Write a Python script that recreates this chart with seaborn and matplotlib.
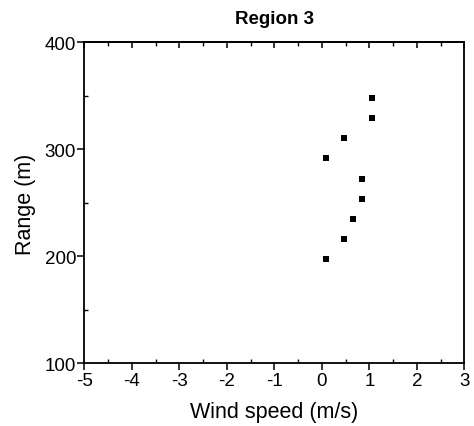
import matplotlib
matplotlib.use("Agg")
import matplotlib.pyplot as plt
import seaborn as sns
import pandas as pd
from matplotlib.ticker import MultipleLocator

wind_speed = [0.09, 0.47, 0.66, 0.85, 0.85, 0.09, 0.47, 1.05, 1.05]
range_m = [197.6, 216.3, 235.2, 253.9, 272.6, 291.5, 310.3, 329.2, 347.9]
x_ticks = [-5, -4, -3, -2, -1, 0, 1, 2, 3]
y_ticks = [100, 200, 300, 400]

df = pd.DataFrame({"Wind speed": wind_speed, "Range": range_m})

sns.set_theme(style="white")
plt.rcParams["font.family"] = ["Liberation Sans", "DejaVu Sans"]
plt.rcParams["text.color"] = "black"
plt.rcParams["axes.labelcolor"] = "black"
plt.rcParams["xtick.color"] = "black"
plt.rcParams["ytick.color"] = "black"

fig = plt.figure(figsize=(4.74, 4.27), dpi=100)
ax = fig.add_axes([0.178, 0.1464, 0.8016, 0.7522])

sns.scatterplot(data=df, x="Wind speed", y="Range", ax=ax, marker="s",
                color="black", s=24, linewidth=0, legend=False)

ax.set_xlim(-5, 3)
ax.set_ylim(100, 400)
ax.set_xticks(x_ticks)
ax.set_yticks(y_ticks)
ax.set_xticklabels([str(t) for t in x_ticks])
ax.set_yticklabels([str(t) for t in y_ticks])
ax.xaxis.set_minor_locator(MultipleLocator(0.5))
ax.yaxis.set_minor_locator(MultipleLocator(50))

for s in ax.spines.values():
    s.set_color("black")
    s.set_linewidth(1.3)

ax.tick_params(axis="both", which="major", direction="out", length=5, width=1.1,
               colors="black", labelcolor="black", labelsize=13.5, pad=1,
               top=False, right=False, bottom=True, left=True)
ax.tick_params(axis="both", which="minor", direction="in", length=3, width=1.0,
               colors="black", top=False, right=False, bottom=True, left=True)

sec = ax.secondary_xaxis("top")
sec.set_xticks(x_ticks)
sec.xaxis.set_minor_locator(MultipleLocator(0.5))
sec.tick_params(which="major", direction="in", length=4, width=1.1, labeltop=False)
sec.tick_params(which="minor", direction="in", length=3, width=1.0)
sec.spines["top"].set_linewidth(1.3)
sec.spines["top"].set_color("black")

ax.set_xlabel("Wind speed (m/s)", fontsize=15.5, labelpad=9, color="black")
ax.set_ylabel("Range (m)", fontsize=15.5, labelpad=6, color="black")
ax.set_title("Region 3", fontsize=13.5, fontweight="bold", pad=14, color="black")

fig.savefig("out.png", dpi=100)
